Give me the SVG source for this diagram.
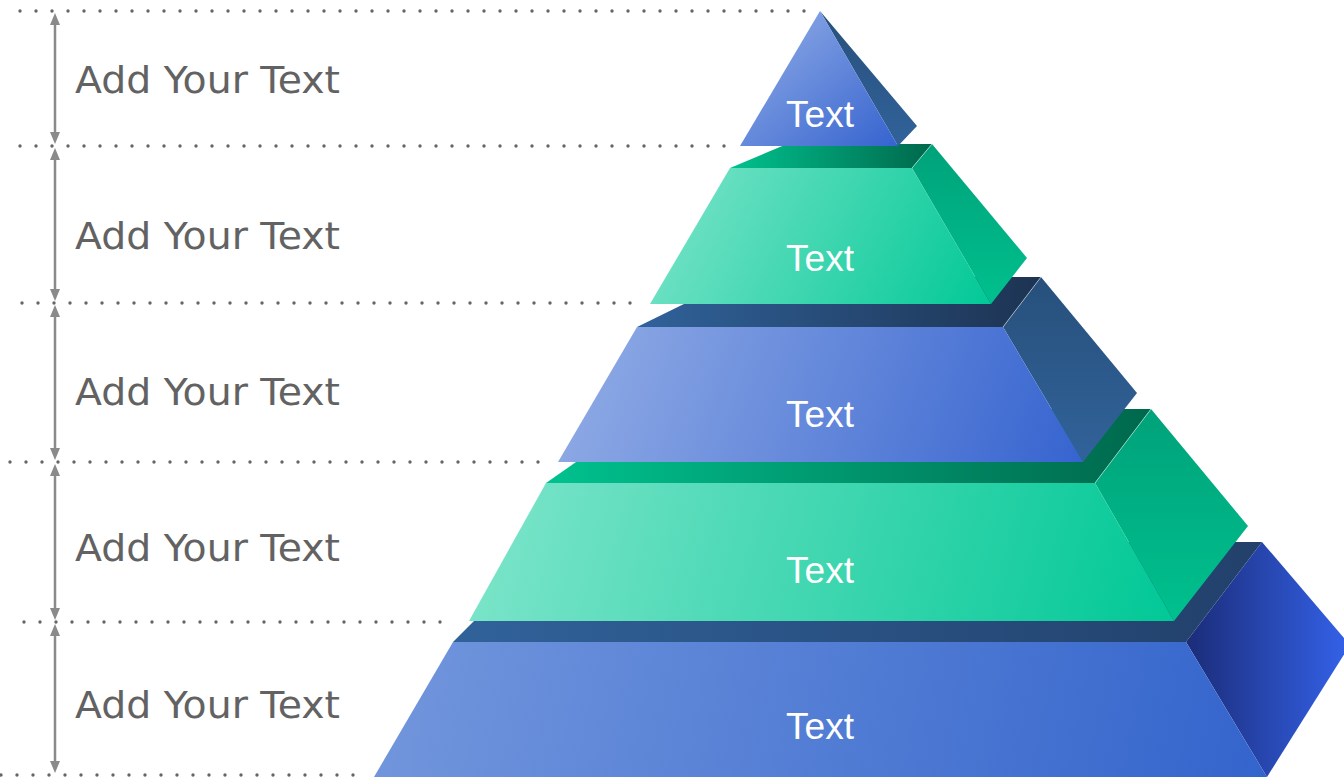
<svg xmlns="http://www.w3.org/2000/svg" width="1344" height="777" viewBox="0 0 1344 777">
<style>
.dots{stroke:#666;stroke-width:3.4;stroke-linecap:round;stroke-dasharray:0 16;fill:none}
.dim{stroke:#8a8a8a;stroke-width:2.5;fill:none;marker-start:url(#ah);marker-end:url(#ah)}
.lbl{font-family:"DejaVu Sans","Open Sans",sans-serif;font-size:38px;fill:#626262}
.t{font-family:"Liberation Sans",Arial,sans-serif;font-size:37px;fill:#fff;text-anchor:middle}
.edge{stroke:#ffffff;stroke-opacity:0.45;stroke-width:1;fill:none}
</style>
<defs>
<marker id="ah" viewBox="0 0 12 10" refX="4" refY="5" markerWidth="12" markerHeight="10" markerUnits="userSpaceOnUse" orient="auto-start-reverse">
<path d="M0,0 L12,5 L0,10 z" fill="#8a8a8a"/>
</marker>
<linearGradient id="bTri" x1="0" y1="0" x2="1" y2="1"><stop offset="0" stop-color="#96b0e7"/><stop offset="1" stop-color="#3563cf"/></linearGradient>
<linearGradient id="bF3" gradientUnits="userSpaceOnUse" x1="558" y1="300" x2="1083" y2="480"><stop offset="0" stop-color="#94aee6"/><stop offset="1" stop-color="#3563cf"/></linearGradient>
<linearGradient id="bF5" gradientUnits="userSpaceOnUse" x1="374" y1="620" x2="1267" y2="800"><stop offset="0" stop-color="#7397dd"/><stop offset="1" stop-color="#3364cc"/></linearGradient>
<linearGradient id="gF2" gradientUnits="userSpaceOnUse" x1="650" y1="150" x2="991" y2="320"><stop offset="0" stop-color="#80e5cb"/><stop offset="1" stop-color="#00c896"/></linearGradient>
<linearGradient id="gF4" gradientUnits="userSpaceOnUse" x1="469" y1="460" x2="1174" y2="640"><stop offset="0" stop-color="#80e5cb"/><stop offset="1" stop-color="#00c896"/></linearGradient>
<linearGradient id="bS" x1="0" y1="0" x2="0" y2="1"><stop offset="0" stop-color="#27507b"/><stop offset="1" stop-color="#31629a"/></linearGradient>
<linearGradient id="bT" x1="0" y1="0" x2="1" y2="0"><stop offset="0" stop-color="#30629a"/><stop offset="1" stop-color="#1d3352"/></linearGradient>
<linearGradient id="bT5" x1="0" y1="0" x2="1" y2="0"><stop offset="0" stop-color="#30629a"/><stop offset="1" stop-color="#22406a"/></linearGradient>
<linearGradient id="bS5" x1="0" y1="0" x2="1" y2="0"><stop offset="0" stop-color="#1b2c78"/><stop offset="1" stop-color="#3462ea"/></linearGradient>
<linearGradient id="gS" x1="0" y1="0" x2="0" y2="1"><stop offset="0" stop-color="#00a27a"/><stop offset="1" stop-color="#00c08e"/></linearGradient>
<linearGradient id="gT" x1="0" y1="0" x2="1" y2="0"><stop offset="0" stop-color="#00c28e"/><stop offset="1" stop-color="#00684c"/></linearGradient>
</defs>
<rect width="1344" height="777" fill="#ffffff"/>
<g id="guides">
<line class="dots" x1="20" y1="11" x2="820" y2="11"/>
<line class="dots" x1="20" y1="146" x2="740" y2="146"/>
<line class="dots" x1="22" y1="303" x2="646" y2="303"/>
<line class="dots" x1="10" y1="462" x2="554" y2="462"/>
<line class="dots" x1="24" y1="622" x2="456" y2="622"/>
<line class="dots" x1="1" y1="775" x2="369" y2="775"/>
</g>
<g id="connectors">
<line class="dim" x1="55" y1="21" x2="55" y2="136"/>
<line class="dim" x1="55" y1="156" x2="55" y2="293"/>
<line class="dim" x1="55" y1="313" x2="55" y2="452"/>
<line class="dim" x1="55" y1="472" x2="55" y2="612"/>
<line class="dim" x1="55" y1="632" x2="55" y2="765"/>
</g>
<g id="labels">
<text class="lbl" x="75" y="93" textLength="265" lengthAdjust="spacingAndGlyphs">Add Your Text</text>
<text class="lbl" x="75" y="249" textLength="265" lengthAdjust="spacingAndGlyphs">Add Your Text</text>
<text class="lbl" x="75" y="405" textLength="265" lengthAdjust="spacingAndGlyphs">Add Your Text</text>
<text class="lbl" x="75" y="561" textLength="265" lengthAdjust="spacingAndGlyphs">Add Your Text</text>
<text class="lbl" x="75" y="718" textLength="265" lengthAdjust="spacingAndGlyphs">Add Your Text</text>
</g>
<g id="level5">
<polygon points="453,642 553,542 1262,542 1186,642" fill="url(#bT5)"/>
<polygon points="1186,642 1262,542 1350,645 1267,777" fill="url(#bS5)"/>
<polygon points="453,642 1186,642 1267,777 374,777" fill="url(#bF5)"/>
<text class="t" x="820" y="739" textLength="68" lengthAdjust="spacingAndGlyphs">Text</text>
</g>
<g id="level4">
<polygon points="546,483 652,409 1151,409 1095,483" fill="url(#gT)"/>
<polygon points="1095,483 1151,409 1248,526 1174,621" fill="url(#gS)"/>
<line class="edge" x1="1095" y1="483" x2="1151" y2="409"/>
<polygon points="546,483 1095,483 1174,621 469,621" fill="url(#gF4)"/>
<text class="t" x="820" y="583" textLength="68" lengthAdjust="spacingAndGlyphs">Text</text>
</g>
<g id="level3">
<polygon points="637,327 739,277 1041,277 1003,327" fill="url(#bT)"/>
<polygon points="1003,327 1041,277 1137,393 1083,462" fill="url(#bS)"/>
<line class="edge" x1="1003" y1="327" x2="1041" y2="277"/>
<polygon points="637,327 1003,327 1083,462 558,462" fill="url(#bF3)"/>
<text class="t" x="820" y="427" textLength="68" lengthAdjust="spacingAndGlyphs">Text</text>
</g>
<g id="level2">
<polygon points="730,168 787,144 932,144 912,168" fill="url(#gT)"/>
<polygon points="912,168 932,144 1027,258 991,304" fill="url(#gS)"/>
<line class="edge" x1="912" y1="168" x2="932" y2="144"/>
<polygon points="730,168 912,168 991,304 650,304" fill="url(#gF2)"/>
<text class="t" x="820" y="271" textLength="68" lengthAdjust="spacingAndGlyphs">Text</text>
</g>
<g id="level1">
<polygon points="820,11 917,126 898,146" fill="url(#bS)"/>
<polygon points="820,11 898,146 740,146" fill="url(#bTri)"/>
<text class="t" x="820" y="127" textLength="68" lengthAdjust="spacingAndGlyphs">Text</text>
</g>
</svg>
